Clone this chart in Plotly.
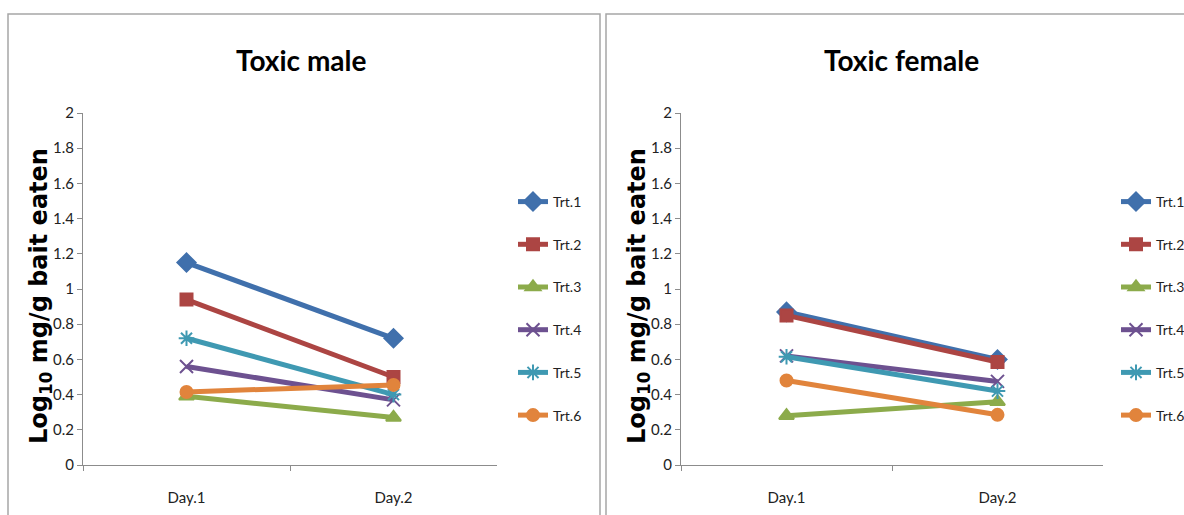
import plotly.graph_objects as go

days = ["Day.1", "Day.2"]
series = ["Trt.1", "Trt.2", "Trt.3", "Trt.4", "Trt.5", "Trt.6"]
male = {
    "Trt.1": [1.15, 0.72],
    "Trt.2": [0.94, 0.50],
    "Trt.3": [0.39, 0.27],
    "Trt.4": [0.56, 0.37],
    "Trt.5": [0.72, 0.40],
    "Trt.6": [0.415, 0.455],
}
female = {
    "Trt.1": [0.87, 0.60],
    "Trt.2": [0.85, 0.585],
    "Trt.3": [0.28, 0.36],
    "Trt.4": [0.62, 0.475],
    "Trt.5": [0.615, 0.42],
    "Trt.6": [0.48, 0.285],
}
yticks = [0, 0.2, 0.4, 0.6, 0.8, 1, 1.2, 1.4, 1.6, 1.8, 2]
ytick_text = ["0", "0.2", "0.4", "0.6", "0.8", "1", "1.2", "1.4", "1.6", "1.8", "2"]
titles = ["Toxic male", "Toxic female"]
ytitle = "Log<sub>10</sub> mg/g bait eaten"

colors = ["#4070AC", "#AC4543", "#8CAB4B", "#6D5190", "#3F99B2", "#E1843C"]
symbols = ["diamond", "square", "triangle-up", "x-thin-open", "asterisk-open", "circle"]
msizes = [14, 12, 13, 13, 13, 12]

W, H = 1184, 515
narrow = "Lato, Roboto, sans-serif"

fig = go.Figure()
for panel, data in enumerate([male, female]):
    xa = "x" if panel == 0 else "x2"
    ya = "y" if panel == 0 else "y2"
    leg = "legend" if panel == 0 else "legend2"
    for i, s in enumerate(series):
        fig.add_trace(go.Scatter(
            x=days, y=data[s], name=s, mode="lines+markers",
            xaxis=xa, yaxis=ya, legend=leg, legendgroup=f"{panel}{s}",
            line=dict(color=colors[i], width=5),
            marker=dict(symbol=symbols[i], size=msizes[i], color=colors[i],
                        line=dict(color=colors[i], width=2)),
        ))

ydom = [50 / H, 402 / H]
axis_common = dict(showgrid=False, zeroline=False, showline=True, linecolor="#8c8c8c",
                   linewidth=1, ticks="outside", tickcolor="#8c8c8c", ticklen=5,
                   automargin=False,
                   tickfont=dict(family=narrow, size=15, color="#222"))
leg_font = dict(family=narrow, size=14, color="#222")
fig.update_layout(
    width=W, height=H, margin=dict(l=0, r=0, t=0, b=0, pad=0, autoexpand=False),
    plot_bgcolor="white", paper_bgcolor="white",
    xaxis=dict(domain=[83 / W, 497 / W], type="category", range=[-0.5, 1.5],
               tickson="boundaries", ticklabelstandoff=19, anchor="y", **axis_common),
    yaxis=dict(domain=ydom, range=[0, 2], tickvals=yticks, ticktext=ytick_text,
               anchor="x", **axis_common),
    xaxis2=dict(domain=[681 / W, 1103 / W], type="category", range=[-0.5, 1.5],
                tickson="boundaries", ticklabelstandoff=19, anchor="y2", **axis_common),
    yaxis2=dict(domain=ydom, range=[0, 2], tickvals=yticks, ticktext=ytick_text,
                anchor="x2", **axis_common),
    legend=dict(x=513 / W, xanchor="left", y=1 - 186 / H, yanchor="top",
                font=leg_font, tracegroupgap=21.5,
                bgcolor="rgba(0,0,0,0)", itemwidth=30),
    legend2=dict(x=1116 / W, xanchor="left", y=1 - 186 / H, yanchor="top",
                 font=leg_font, tracegroupgap=21.5,
                 bgcolor="rgba(0,0,0,0)", itemwidth=30),
    showlegend=True,
)

# panel frames
fig.add_shape(type="rect", xref="paper", yref="paper", x0=8 / W, x1=600 / W,
              y0=-0.05, y1=1 - 14 / H, line=dict(color="#a6a6a6", width=1.5))
fig.add_shape(type="rect", xref="paper", yref="paper", x0=606 / W, x1=1.05,
              y0=-0.05, y1=1 - 14 / H, line=dict(color="#a6a6a6", width=1.5))

# titles
for xc, t in zip([301, 901], titles):
    fig.add_annotation(x=xc / W, y=1 - 60 / H, xref="paper", yref="paper",
                       text=f"<b>{t}</b>", showarrow=False, xanchor="center", yanchor="middle",
                       font=dict(family=narrow, size=28, color="black"))
# y-axis titles
for xc in [41, 639]:
    fig.add_annotation(x=xc / W, y=1 - 296 / H, xref="paper", yref="paper",
                       text=f"<b>{ytitle}</b>", showarrow=False, textangle=-90,
                       xanchor="center", yanchor="middle",
                       font=dict(family="DejaVu Sans, Verdana, sans-serif", size=24, color="black"))

fig.write_html("out.html")
